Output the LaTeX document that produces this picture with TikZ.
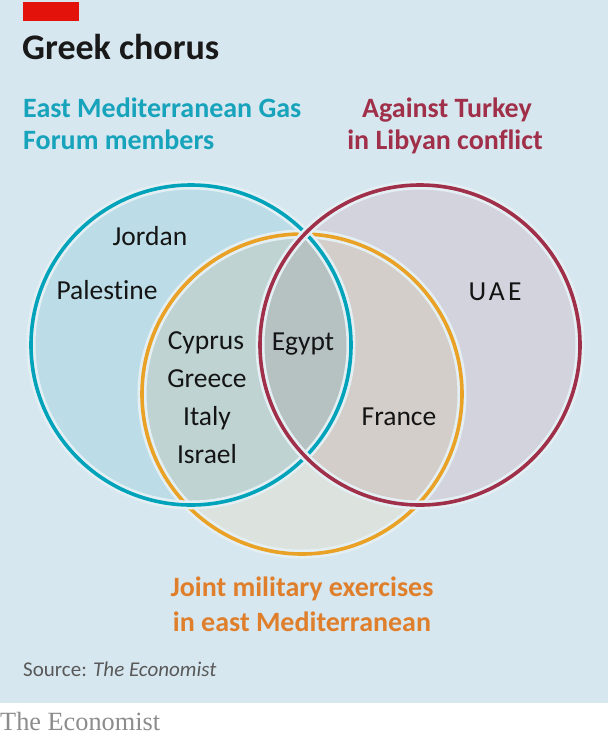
\documentclass[tikz,border=0pt]{standalone}
\usepackage{fontspec}
\setmainfont{Carlito}[Ligatures=CommonOff]
\newfontfamily\mastheadfont{Liberation Serif}
\usetikzlibrary{positioning}
\definecolor{panelBlue}{HTML}{D7E7EF}
\definecolor{econRed}{HTML}{E3120B}
\definecolor{forumTeal}{HTML}{00A3B9}
\definecolor{forumText}{HTML}{17A3BB}
\definecolor{libyaMaroon}{HTML}{A0304A}
\definecolor{drillOrange}{HTML}{E9A126}
\definecolor{drillText}{HTML}{DF7F2C}
\definecolor{ringHalo}{HTML}{E4EFF4}
\definecolor{onlyForum}{HTML}{BCDDE7}
\definecolor{onlyLibya}{HTML}{D3D3DE}
\definecolor{onlyDrill}{HTML}{DCE3DF}
\definecolor{forumDrill}{HTML}{BFD3D3}
\definecolor{libyaDrill}{HTML}{D3CEC9}
\definecolor{allThree}{HTML}{B6C1C1}

\begin{document}
\begin{tikzpicture}[
            x=1pt, y=-1pt,
            country/.style={
                anchor=base,
                inner sep=0pt,
                text=black!92,
                font=\fontsize{27.5}{27.5}\selectfont
            },
            setlabel/.style={
                anchor=base,
                inner sep=0pt,
                font=\fontsize{28}{28}\selectfont\bfseries
            },
            halo/.style={
                draw=ringHalo,
                line width=9pt
            },
            ring/.style={
                line width=3.6pt
            }
        ]

        % --- Panel ---
        \useasboundingbox (0,0) rectangle (608,739);
        \fill[panelBlue] (0,0) rectangle (608,703);
        \fill[econRed] (23,2) rectangle (79,21);

        \node[anchor=base west, inner sep=0pt,
            font=\fontsize{36}{36}\selectfont\bfseries,
            text=black!90] (title) at (22,59) {Greek chorus};

        % --- Set centres ---
        \coordinate (forum) at (191,345);
        \coordinate (libya) at (420,345);
        \coordinate (drill) at (302,394);
        \def\setradius{160pt}

        % --- Fills ---
        \fill[onlyDrill] (drill) circle[radius=\setradius];
        \fill[onlyForum] (forum) circle[radius=\setradius];
        \fill[onlyLibya] (libya) circle[radius=\setradius];
        \begin{scope}
            \clip (drill) circle[radius=\setradius];
            \fill[forumDrill] (forum) circle[radius=\setradius];
            \fill[libyaDrill] (libya) circle[radius=\setradius];
        \end{scope}
        \begin{scope}
            \clip (forum) circle[radius=\setradius];
            \fill[allThree] (libya) circle[radius=\setradius];
        \end{scope}

        % --- Rings ---
        \draw[halo] (drill) circle[radius=\setradius];
        \draw[ring, drillOrange] (drill) circle[radius=\setradius];
        \draw[halo] (forum) circle[radius=\setradius];
        \draw[ring, forumTeal] (forum) circle[radius=\setradius];
        \draw[halo] (libya) circle[radius=\setradius];
        \draw[ring, libyaMaroon] (libya) circle[radius=\setradius];

        % --- Set labels ---
        \node[setlabel, anchor=base west, text=forumText]
            (forumA) at (23,117) {East Mediterranean Gas};
        \node[setlabel, anchor=base west, text=forumText]
            (forumB) at (23,149) {Forum members};

        \node[setlabel, text=libyaMaroon] (libyaA) at (447,117) {Against Turkey};
        \node[setlabel, text=libyaMaroon] (libyaB) at (445,149) {in Libyan conflict};

        \node[setlabel, text=drillText] (drillA) at (302,596) {Joint military exercises};
        \node[setlabel, text=drillText] (drillB) at (302,631) {in east Mediterranean};

        % --- Countries ---
        \node[country] (jordan) at (150,245) {Jordan};
        \node[country] (palestine) at (107,299) {Palestine};
        \node[country] (cyprus) at (206,349) {Cyprus};
        \node[country] (greece) at (207,387) {Greece};
        \node[country] (italy) at (207,425) {Italy};
        \node[country] (israel) at (207,463) {Israel};
        \node[country] (egypt) at (303,350) {Egypt};
        \node[country] (uae) at (495,300) {\addfontfeature{LetterSpace=12}UAE};
        \node[country] (france) at (399,425) {France};

        % --- Credits ---
        \node[anchor=base west, inner sep=0pt, text=black!65,
            font=\fontsize{21}{21}\selectfont]
            (source) at (23,676) {Source: \textit{The Economist}};
        \node[anchor=base west, inner sep=0pt, text=black!45,
            font=\fontsize{26.3}{26.3}\mastheadfont]
            (masthead) at (0,730) {The Economist};

        \end{tikzpicture}
\end{document}
